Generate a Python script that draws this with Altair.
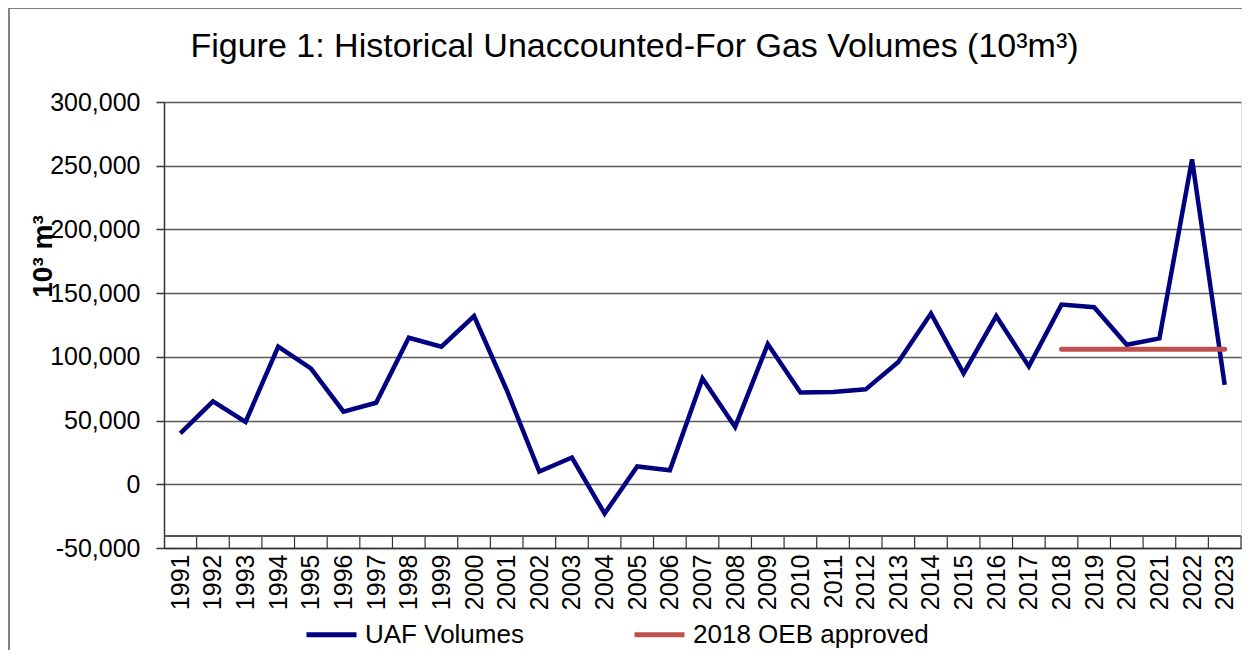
import altair as alt
import pandas as pd

years = [str(y) for y in range(1991, 2024)]
uaf = [40000, 65000, 49000, 108000, 91000, 57000, 64000, 115000, 108000, 132000,
       74000, 10000, 21000, -23000, 14000, 11000, 83000, 45000, 110000, 72000,
       72500, 74500, 96000, 134000, 87000, 132000, 92500, 141000, 139000, 109500,
       114500, 255000, 78000]
oeb_years = ["2018", "2019", "2020", "2021", "2022", "2023"]
oeb = [106000, 106000, 106000, 106000, 106000, 106000]
series_names = ["UAF Volumes", "2018 OEB approved"]
series_colors = ["#000080", "#C0504D"]
y_ticks = [-50000, 0, 50000, 100000, 150000, 200000, 250000, 300000]

W, H = 1077, 446
FONT = "Liberation Sans"

df_uaf = pd.DataFrame({"year": years, "value": uaf, "series": series_names[0]})
df_oeb = pd.DataFrame({"year": oeb_years, "value": oeb, "series": series_names[1]})
df_years = pd.DataFrame({"year": years})

xscale = alt.Scale(domain=years, type="point", padding=0.5)
yscale = alt.Scale(domain=[-50000, 300000], nice=False, zero=False)

color = alt.Color(
    "series:N",
    scale=alt.Scale(domain=series_names, range=series_colors),
    legend=alt.Legend(
        title=None, orient="none", legendX=140, legendY=505, direction="horizontal",
        columns=2, symbolType="stroke", symbolSize=2500, symbolStrokeWidth=5,
        labelFontSize=26, labelFont=FONT, labelColor="black", columnPadding=100,
        labelOffset=6, labelLimit=400,
    ),
)

x_enc = alt.X(
    "year:O", scale=xscale,
    axis=alt.Axis(title=None, labelAngle=-90, labelFontSize=25, labelFont=FONT,
                  labelColor="black", ticks=False, domainColor="#333333",
                  domainWidth=1.5, grid=False, labelPadding=6),
)
y_enc = alt.Y(
    "value:Q", scale=yscale,
    axis=alt.Axis(values=y_ticks, grid=True, gridColor="#5a5a5a", gridWidth=1.5,
                  domainColor="#333333", domainWidth=1.5, tickColor="#333333",
                  tickSize=8, tickWidth=1.5, labelFontSize=25, labelFont=FONT,
                  labelColor="black", labelPadding=16,
                  labelExpr="replace(format(datum.value, ','), '\u2212', '-')",
                  title="10\u00b3 m\u00b3", titleFont=FONT, titleFontSize=28,
                  titleFontWeight="bold", titleColor="black", titleX=-121,
                  titleY=154, titleAngle=270, titleAlign="center",
                  titleBaseline="middle"),
)

line_uaf = alt.Chart(df_uaf).mark_line(strokeWidth=4.5, strokeJoin="miter").encode(
    x=x_enc, y=y_enc, color=color)
line_oeb = alt.Chart(df_oeb).mark_line(strokeWidth=5, strokeCap="round").encode(
    x=alt.X("year:O", scale=xscale), y=alt.Y("value:Q", scale=yscale), color=color)

ticks = alt.Chart(df_years).mark_rule(color="#333333", strokeWidth=1.2, xOffset=W / 33 / 2).encode(
    x=alt.X("year:O", scale=xscale), y=alt.value(H), y2=alt.value(H - 12))
inner_line = alt.Chart(df_years).mark_rule(color="#555555", strokeWidth=1.2).encode(
    x=alt.value(0), x2=alt.value(W), y=alt.value(H - 12))
frame_left = alt.Chart(df_years).mark_rule(color="#808080", strokeWidth=1.2).encode(
    x=alt.value(-155.5), y=alt.value(-93.5), y2=alt.value(H + 110))
frame_top = alt.Chart(df_years).mark_rule(color="#808080", strokeWidth=1.2).encode(
    x=alt.value(-155.5), x2=alt.value(W + 2), y=alt.value(-93.5))

chart = alt.layer(line_uaf, line_oeb, ticks, inner_line, frame_left, frame_top).properties(
    width=W, height=H,
    autosize=alt.AutoSizeParams(type="none"),
    padding={"left": 156, "top": 94, "right": 1, "bottom": 102},
    title=alt.TitleParams(
        "Figure 1: Historical Unaccounted-For Gas Volumes (10\u00b3m\u00b3)",
        fontSize=34, font=FONT, fontWeight="normal", color="black",
        anchor="middle", dx=-68, offset=0, baseline="alphabetic", dy=83,
    ),
).configure_view(stroke="#8a8a8a", strokeWidth=1.5).configure(background="white")

chart.save("out.html", embed_options={"renderer": "svg", "actions": False})
